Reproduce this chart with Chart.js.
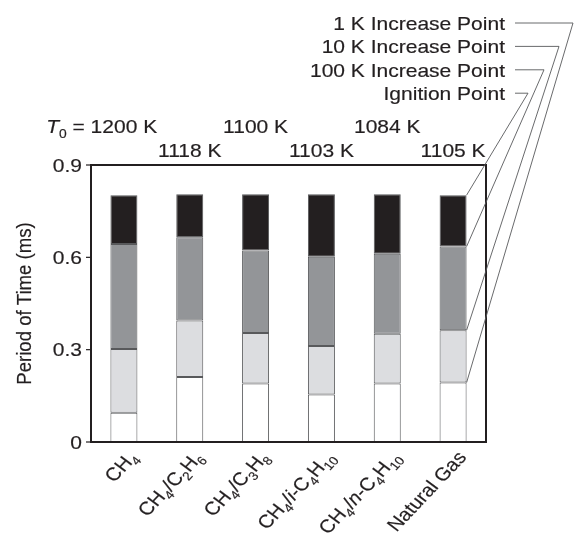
<!DOCTYPE html>
<html>
<head>
<meta charset="utf-8">
<script src="https://cdn.jsdelivr.net/npm/chart.js@4.4.0/dist/chart.umd.min.js"></script>
<style>
  html, body { margin: 0; padding: 0; background: #fff; }
  canvas { display: block; }
</style>
</head>
<body>
<canvas id="chart" width="575" height="539"></canvas>
<script>
// category names, markup: _{..} = subscript, *..* = italic
const categories = ["CH_{4}", "CH_{4}/C_{2}H_{6}", "CH_{4}/C_{3}H_{8}", "CH_{4}/*i*-C_{4}H_{10}", "CH_{4}/*n*-C_{4}H_{10}", "Natural Gas"];
const initialTemps = ["1200 K", "1118 K", "1100 K", "1103 K", "1084 K", "1105 K"];

// time (ms) at which each point is reached
const t1K = [0.095, 0.211, 0.190, 0.154, 0.190, 0.193];
const t10K = [0.302, 0.395, 0.354, 0.312, 0.352, 0.363];
const t100K = [0.643, 0.665, 0.622, 0.602, 0.612, 0.635];
const tIgnition = [0.802, 0.805, 0.805, 0.805, 0.805, 0.802];

const yTicks = [0, 0.3, 0.6, 0.9];
const yTickLabels = ["0", "0.3", "0.6", "0.9"];
const pointLabels = ["1 K Increase Point", "10 K Increase Point", "100 K Increase Point", "Ignition Point"];

const INK = "#231f20";
const LINE = "#58595b";
const FONT = "'Liberation Sans', Arial, sans-serif";
const STRETCH = 1.13; // the figure is a bit wider than tall

function parseRich(str) {
  const parts = [];
  const re = /_\{([^}]*)\}|\*([^*]*)\*|([^_*]+)/g;
  let m;
  while ((m = re.exec(str))) {
    if (m[1] !== undefined) parts.push({ t: m[1], sub: true });
    else if (m[2] !== undefined) parts.push({ t: m[2], it: true });
    else parts.push({ t: m[3] });
  }
  return parts;
}

function plain(str) {
  return parseRich(str).map((p) => p.t).join("");
}

function fontFor(p, size) {
  const s = p.sub ? size * 0.66 : size;
  return (p.it ? "italic " : "") + s + "px " + FONT;
}

function richWidth(ctx, parts, size) {
  let w = 0;
  for (const p of parts) {
    ctx.font = fontFor(p, size);
    w += ctx.measureText(p.t).width;
  }
  return w;
}

// draws text with optional subscripts/italics; returns on-screen width
function drawRich(ctx, str, x, y, opts) {
  const size = opts.size;
  const parts = parseRich(str);
  ctx.save();
  ctx.translate(x, y);
  ctx.scale(STRETCH, 1);
  if (opts.rotate) ctx.rotate(opts.rotate);
  ctx.textAlign = "left";
  ctx.textBaseline = "alphabetic";
  ctx.fillStyle = INK;
  ctx.strokeStyle = INK;
  ctx.lineWidth = 0.18;
  const w = richWidth(ctx, parts, size);
  let cx = opts.align === "right" ? -w : opts.align === "center" ? -w / 2 : 0;
  const dy = opts.dy || 0;
  for (const p of parts) {
    ctx.font = fontFor(p, size);
    const ty = dy + (p.sub ? size * 0.25 : 0);
    ctx.fillText(p.t, cx, ty);
    ctx.strokeText(p.t, cx, ty);
    cx += ctx.measureText(p.t).width;
  }
  ctx.restore();
  return w * STRETCH;
}

function segment(lower, upper) {
  return upper.map((v, i) => v - (lower ? lower[i] : 0));
}

const decorations = {
  id: "decorations",
  afterDraw(chart) {
    const ctx = chart.ctx;
    const { left, right, top, bottom } = chart.chartArea;
    const x = chart.scales.x;
    const y = chart.scales.y;

    // frame
    ctx.save();
    ctx.strokeStyle = INK;
    ctx.lineWidth = 2;
    ctx.strokeRect(left, top, right - left, bottom - top);

    // y ticks + labels
    ctx.lineWidth = 1.2;
    yTicks.forEach((v, i) => {
      const py = y.getPixelForValue(v);
      ctx.beginPath();
      ctx.moveTo(left - 5, py);
      ctx.lineTo(left, py);
      ctx.stroke();
      drawRich(ctx, yTickLabels[i], left - 9, py + 6.5, { size: 18.6, align: "right" });
    });
    ctx.restore();

    // y title
    drawRich(ctx, "Period of Time (ms)", 30.5, (top + bottom) / 2, { size: 18.6, align: "center", rotate: -Math.PI / 2 });

    // x labels
    categories.forEach((c, i) => {
      const px = x.getPixelForValue(i);
      drawRich(ctx, c, px + 9, bottom + 12, { size: 18.3, align: "right", rotate: -50 * Math.PI / 180, dy: 6 });
    });

    // initial temperatures, staggered in two rows
    initialTemps.forEach((t, i) => {
      const px = x.getPixelForValue(i);
      const by = i % 2 === 0 ? 133.3 : 156.7;
      const w = drawRich(ctx, t, px, by, { size: 18.6, align: "center" });
      if (i === 0) drawRich(ctx, "*T*_{0} = ", px - w / 2, by, { size: 18.6, align: "right" });
    });

    // point labels with leader lines to the last bar
    const last = categories.length - 1;
    const targets = [t1K[last], t10K[last], t100K[last], tIgnition[last]];
    const bar = chart.getDatasetMeta(0).data[last];
    const barRight = bar.x + bar.width / 2;
    const elbows = [573, 559, 544, 528];
    ctx.save();
    ctx.strokeStyle = LINE;
    ctx.lineWidth = 0.9;
    pointLabels.forEach((lab, i) => {
      const by = 30 + i * 23.4;
      drawRich(ctx, lab, 505, by, { size: 18.6, align: "right" });
      const ly = by - 7;
      ctx.beginPath();
      ctx.moveTo(515, ly);
      ctx.lineTo(elbows[i], ly);
      ctx.lineTo(barRight, y.getPixelForValue(targets[i]));
      ctx.stroke();
    });
    ctx.restore();
  },
};

const barStyle = { borderColor: LINE, borderWidth: 1, borderSkipped: false, categoryPercentage: 1, barPercentage: 0.41 };

new Chart(document.getElementById("chart"), {
  type: "bar",
  data: {
    labels: categories.map(plain),
    datasets: [
      { label: "1 K", data: segment(null, t1K), backgroundColor: "#ffffff", ...barStyle },
      { label: "10 K", data: segment(t1K, t10K), backgroundColor: "#dcdde0", ...barStyle },
      { label: "100 K", data: segment(t10K, t100K), backgroundColor: "#939598", ...barStyle },
      { label: "Ignition", data: segment(t100K, tIgnition), backgroundColor: INK, ...barStyle },
    ],
  },
  options: {
    responsive: false,
    animation: false,
    layout: { padding: { left: 91, top: 165, right: 89, bottom: 97 } },
    plugins: { legend: { display: false }, tooltip: { enabled: false } },
    scales: {
      x: { display: false, stacked: true },
      y: { display: false, stacked: true, min: 0, max: 0.9 },
    },
  },
  plugins: [decorations],
});
</script>
</body>
</html>
